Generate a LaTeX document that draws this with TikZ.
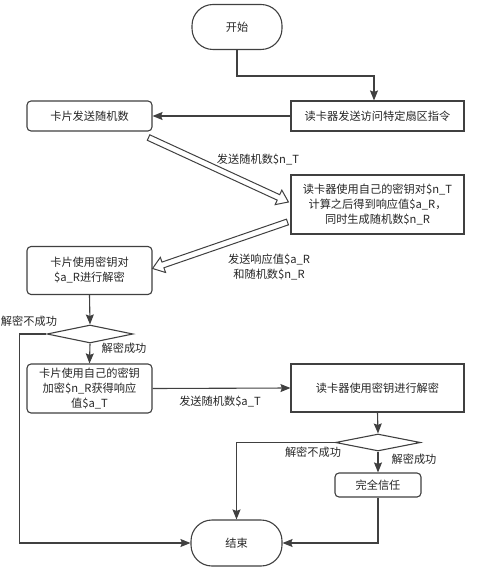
\documentclass[tikz,border=0pt]{standalone}
\usepackage{fontspec}
\setmainfont{Noto Sans CJK SC}
\usetikzlibrary{arrows.meta,calc,shapes.geometric}
\definecolor{ln}{HTML}{404040}
\definecolor{tx}{HTML}{262626}
\tikzset{
  base/.style={draw=ln, line width=1.1pt, text=tx, font=\fontsize{11.2}{15}\selectfont, align=center, inner sep=1pt, fill=white},
  term/.style={base, minimum width=90pt, minimum height=45pt, rounded corners=21pt},
  rbox/.style={base, minimum width=125pt, rounded corners=4pt},
  sbox/.style={base, minimum width=173pt},
  dec/.style={draw=ln, line width=1.1pt, shape=diamond, inner sep=0pt, minimum width=86pt, minimum height=18pt},
  arr/.style={draw=ln, line width=1.1pt, -{Stealth[length=10pt,width=8pt,inset=1.5pt]}},
  lbl/.style={text=tx, font=\fontsize{11.2}{15}\selectfont, align=center, inner sep=0pt},
  hollow/.style={draw=ln, line width=1pt, fill=white, line join=miter},
}
\begin{document}
\begin{tikzpicture}[x=1pt,y=-1pt]
\useasboundingbox (0,0) rectangle (500,569);
\node[term] (start) at (237,27) {开始};
\node[rbox, minimum height=30pt] (card1) at (89.5,116) {卡片发送随机数};
\node[sbox, minimum height=30pt] (reader1) at (377.5,116) {读卡器发送访问特定扇区指令};
\node[sbox, minimum height=59pt] (reader2) at (377.5,204.5) {读卡器使用自己的密钥对\$n\_T\\计算之后得到响应值\$a\_R，\\同时生成随机数\$n\_R};
\node[rbox, minimum height=48pt] (card2) at (89.5,270.5) {卡片使用密钥对\\\$a\_R进行解密};
\node[dec] (d1) at (90,334) {};
\node[rbox, minimum height=49pt] (card3) at (89.5,388.5) {卡片使用自己的密钥\\加密\$n\_R获得响应\\值\$a\_T};
\node[sbox, minimum height=48pt] (reader3) at (377.5,388) {读卡器使用密钥进行解密};
\node[dec, minimum width=85pt, minimum height=17pt] (d2) at (378,442.5) {};
\node[rbox, minimum width=86pt, minimum height=24pt] (trust) at (378,485) {完全信任};
\node[term, minimum width=91pt, minimum height=46pt] (end) at (236.5,543) {结束};

% connectors
\draw[arr] (start.south) -- ++(0,26) -| ([xshift=-3.5pt]reader1.north);
\draw[arr] (reader1.west) -- (card1.east);
\draw[arr] (card2.south) -- (d1.north);
\draw[arr] (d1.west) -- ++(-27,0) |- (end.west);
\draw[arr] (d1.south) -- (card3.north);
\draw[arr] (card3.east) -- (reader3.west);
\draw[arr] (reader3.south) -- (d2.north);
\draw[arr] (d2.west) -| (end.north);
\draw[arr] (d2.south) -- (trust.north);
\draw[arr] (trust.south) |- (end.east);

% hollow arrows
\coordinate (h1a) at ($(card1.south east)+(-4,6)$);
\coordinate (h1b) at ($(reader2.west)+(-2,-2.5)$);
\coordinate (h2a) at ($(reader2.west)+(-3,17.5)$);
\coordinate (h2b) at ($(card2.east)+(0,-2)$);
\foreach \a/\b in {h1a/h1b, h2a/h2b}{
  \coordinate (hH) at ($(\b)!11pt!(\a)$);
  \draw[hollow] ($(\a)!3pt!90:(\b)$) -- ($(hH)!3pt!-90:(\a)$) -- ($(hH)!8pt!-90:(\a)$) -- (\b)
     -- ($(hH)!8pt!90:(\a)$) -- ($(hH)!3pt!90:(\a)$) -- ($(\a)!3pt!-90:(\b)$) -- cycle;
}

% labels
\node[lbl] (l1) at (258,160) {发送随机数\$n\_T};
\node[lbl] (l2) at (269,267) {发送响应值\$a\_R\\和随机数\$n\_R};
\node[lbl] (l3) at (29,321) {解密不成功};
\node[lbl] (l4) at (124,348) {解密成功};
\node[lbl] (l5) at (220,402) {发送随机数\$a\_T};
\node[lbl] (l6) at (313,452) {解密不成功};
\node[lbl] (l7) at (414,459) {解密成功};
\end{tikzpicture}
\end{document}
